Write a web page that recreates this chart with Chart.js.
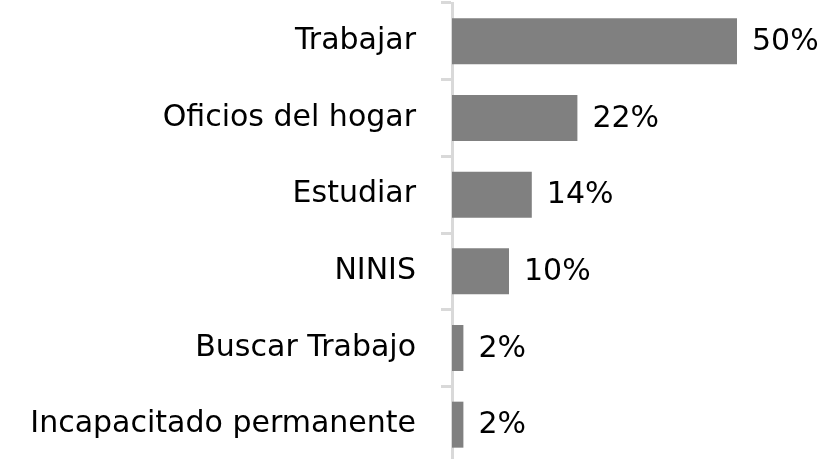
<!DOCTYPE html>
<html>
<head>
<meta charset="utf-8">
<script src="https://cdn.jsdelivr.net/npm/chart.js@4/dist/chart.umd.min.js"></script>
<style>
  html, body { margin: 0; padding: 0; background: #fff; overflow: hidden; }
  #wrap { width: 839px; height: 466px; }
</style>
</head>
<body>
<div id="wrap"><canvas id="chart"></canvas></div>
<script>
const categories = ['Trabajar', 'Oficios del hogar', 'Estudiar', 'NINIS', 'Buscar Trabajo', 'Incapacitado permanente'];
const values = [50, 22, 14, 10, 2, 2];
const valueLabels = ['50%', '22%', '14%', '10%', '2%', '2%'];

const FONT = '"DejaVu Sans"';

// draws the percentage next to each bar
const barLabels = {
    id: 'barLabels',
    afterDatasetsDraw(chart) {
        const ctx = chart.ctx;
        const meta = chart.getDatasetMeta(0);
        ctx.save();
        ctx.font = '30px ' + FONT;
        ctx.fillStyle = '#000';
        ctx.textAlign = 'left';
        ctx.textBaseline = 'middle';
        meta.data.forEach((bar, i) => {
            ctx.fillText(valueLabels[i], bar.x + 15, bar.y + 1);
        });
        ctx.restore();
    }
};

new Chart(document.getElementById('chart'), {
    type: 'bar',
    data: {
        labels: categories,
        datasets: [{
            data: values,
            backgroundColor: '#808080',
            borderWidth: 0,
            barPercentage: 0.6,
            categoryPercentage: 1
        }]
    },
    options: {
        indexAxis: 'y',
        responsive: true,
        maintainAspectRatio: false,
        animation: false,
        layout: {
            padding: { top: 3, right: 45, bottom: 3, left: 0 }
        },
        plugins: {
            legend: { display: false },
            tooltip: { enabled: false }
        },
        scales: {
            x: {
                display: false,
                min: 0,
                max: 60
            },
            y: {
                afterFit(scale) {
                    scale.width = 452;
                    scale.paddingTop = 0;
                    scale.paddingBottom = 0;
                },
                border: { color: '#d9d9d9', width: 3 },
                grid: {
                    offset: true,
                    drawOnChartArea: false,
                    color: '#d9d9d9',
                    lineWidth: 3,
                    tickLength: 11
                },
                ticks: {
                    color: '#000',
                    padding: 25,
                    font: { family: FONT, size: 30 }
                }
            }
        }
    },
    plugins: [barLabels]
});
</script>
</body>
</html>
